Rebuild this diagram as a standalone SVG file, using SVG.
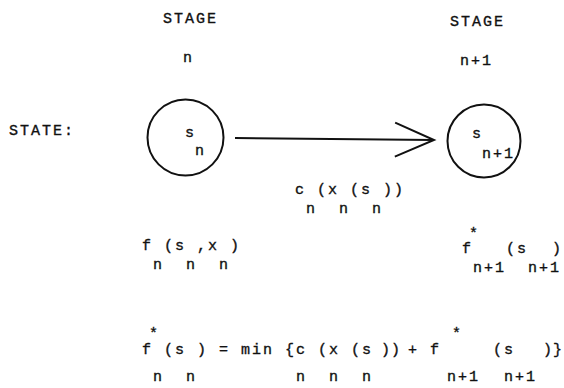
<svg xmlns="http://www.w3.org/2000/svg" width="564" height="388" viewBox="0 0 564 388">
<style>
text{font-family:"Liberation Mono","DejaVu Sans Mono",monospace;font-size:15px;letter-spacing:2px;fill:#111;stroke:#111;stroke-width:0.35;white-space:pre}
.node{fill:none;stroke:#111;stroke-width:2}
.conn{fill:none;stroke:#111;stroke-width:2}
</style>
<defs>
<marker id="openV" markerUnits="userSpaceOnUse" markerWidth="60" markerHeight="50" refX="40" refY="25" orient="auto">
<path d="M1,8 L40,25 L1,42" fill="none" stroke="#111" stroke-width="2"/>
</marker>
</defs>
<text x="163" y="23">STAGE</text>
<text x="183" y="62">n</text>
<text x="450" y="26">STAGE</text>
<text x="460" y="65">n+1</text>
<text x="9" y="135">STATE:</text>
<g id="node-stage-n">
<circle class="node" cx="185.5" cy="137.5" r="38"/>
<text x="185" y="137">s</text>
<text x="195" y="155">n</text>
</g>
<g id="node-stage-n1">
<circle class="node" cx="484" cy="141" r="36.5"/>
<text x="472" y="138">s</text>
<text x="482" y="158">n+1</text>
</g>
<g id="connectors">
<line class="conn" x1="235" y1="138" x2="434" y2="140" marker-end="url(#openV)"/>
</g>
<text xml:space="preserve"><tspan x="295" y="194">c (x (s ))</tspan><tspan x="295" y="213"> n  n  n</tspan></text>
<text xml:space="preserve"><tspan x="142" y="250">f (s ,x )</tspan><tspan x="142" y="269"> n  n  n</tspan></text>
<text xml:space="preserve"><tspan x="469" y="238">*</tspan><tspan x="462" y="253">f</tspan><tspan x="506" y="253">(s</tspan><tspan x="552" y="253">)</tspan><tspan x="462" y="272"> n+1  n+1</tspan></text>
<text xml:space="preserve"><tspan x="149" y="338">*</tspan><tspan x="452" y="338">*</tspan><tspan x="142" y="354">f (s ) = min {c (x (s</tspan><tspan x="381" y="354">)</tspan><tspan x="391" y="354">)</tspan><tspan x="408" y="354">+</tspan><tspan x="430" y="354">f</tspan><tspan x="493" y="354">(s</tspan><tspan x="543" y="354">)</tspan><tspan x="553" y="354">}</tspan><tspan x="142" y="381"> n  n         n  n  n</tspan><tspan x="447" y="381">n+1</tspan><tspan x="504" y="381">n+1</tspan></text>
</svg>
